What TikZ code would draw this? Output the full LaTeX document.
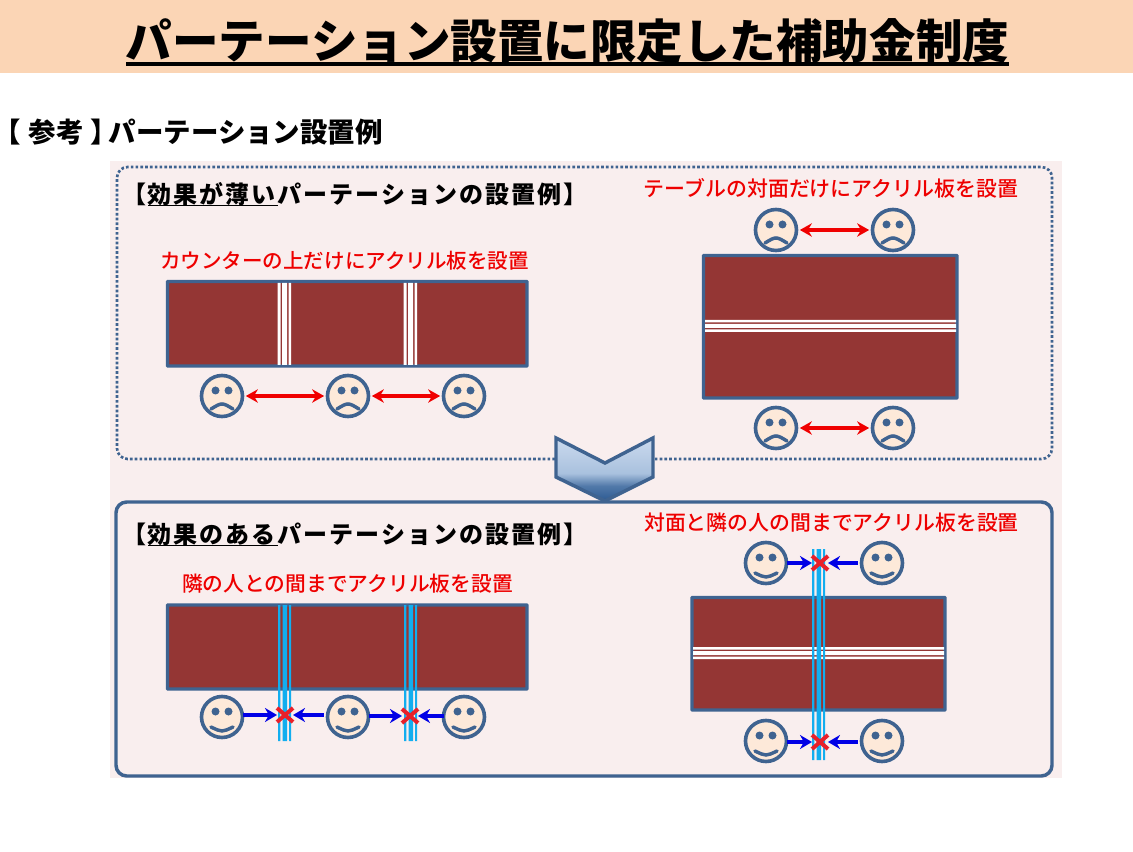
\documentclass[tikz,border=0pt]{standalone}
\usepackage{fontspec}
\usetikzlibrary{arrows.meta,calc,shadings}
\setmainfont{Noto Sans CJK JP}
\newfontfamily\cjk{Noto Sans CJK JP}
\newfontfamily\cjkpalt[RawFeature=+palt]{Noto Sans CJK JP}
\newfontfamily\cjkmed{Noto Sans CJK JP Medium}
\newfontfamily\cjkspaced[LetterSpace=8.3]{Noto Sans CJK JP}
\definecolor{band}{HTML}{FBD5B5}
\definecolor{panel}{HTML}{F9EEEE}
\definecolor{navy}{HTML}{3F6390}
\definecolor{brick}{HTML}{943634}
\definecolor{skin}{HTML}{FDE9D9}
\definecolor{pane}{HTML}{12AEEF}
\definecolor{arrowred}{HTML}{F00000}
\definecolor{arrowblue}{HTML}{0000E6}
\definecolor{crossred}{HTML}{E8202A}
\definecolor{labelred}{HTML}{EE0000}
\definecolor{chevtop}{HTML}{CBDAEE}
\definecolor{chevmid}{HTML}{A9C1DE}
\definecolor{chevlow}{HTML}{2C5A92}
\pgfdeclareverticalshading{chev}{100bp}{
  color(0bp)=(chevlow); color(25bp)=(chevlow); color(37bp)=(chevlow!70!chevmid); color(47bp)=(chevmid); color(75bp)=(chevtop); color(100bp)=(chevtop)}
\tikzset{
  x=0.75pt,y=-0.75pt,
  every node/.style={inner sep=0pt,outer sep=0pt},
  facest/.style={circle,draw=navy,fill=skin,line width=2.7pt,minimum size=41*0.75pt},
  featurest/.style={navy,line width=2.6pt,line cap=round},
  tablest/.style={rectangle,draw=navy,fill=brick,line width=2.6pt,rounded corners=0.5pt},
  redarrow/.style={draw=arrowred,line width=2.7pt,{Stealth[length=9pt,width=10pt]}-{Stealth[length=9pt,width=10pt]},shorten >=2.5pt,shorten <=2.5pt},
  bluearrow/.style={draw=arrowblue,line width=2.9pt,-{Stealth[length=9pt,width=10.5pt]}},
  crossst/.style={minimum size=12pt},
  crossline/.style={crossred,line width=3pt},
  redlabel/.style={font=\cjkmed\fontsize{#1}{16pt}\selectfont,text=labelred,anchor=center},
  headlabel/.style={font=\cjkspaced\bfseries\fontsize{18pt}{20pt}\selectfont,text=black,anchor=west},
}
\newcommand{\facebase}[3]{\node[facest] (#1) at (#2,#3) {};
  \fill[navy] (#2-6.5,#3-5.5) circle (4) (#2+6.5,#3-5.5) circle (4);}
\newcommand{\sadface}[3]{\facebase{#1}{#2}{#3}
  \draw[featurest] (#2-11,#3+13) .. controls (#2,#3+6.3) .. (#2+11,#3+13);}
\newcommand{\happyface}[3]{\facebase{#1}{#2}{#3}
  \draw[featurest] (#2-11,#3+10) .. controls (#2,#3+15.3) .. (#2+11,#3+10);}
\newcommand{\crossmark}[3]{\node[crossst] (#1) at (#2,#3) {};
  \draw[crossline] (#2-8,#3-7) -- (#2+8,#3+7) (#2-8,#3+7) -- (#2+8,#3-7);}
\newcommand{\whitev}[3]{\fill[white] (#1,#2) rectangle (#1+3,#3) (#1+4.5,#2) rectangle (#1+9.5,#3) (#1+11,#2) rectangle (#1+13.5,#3);}
\newcommand{\whiteh}[3]{\fill[white] (#2,#1) rectangle (#3,#1+2.5) (#2,#1+4) rectangle (#3,#1+8) (#2,#1+9.5) rectangle (#3,#1+12);}
\newcommand{\bluev}[3]{\fill[pane] (#1,#2) rectangle (#1+2.4,#3) (#1+4.5,#2) rectangle (#1+9.2,#3) (#1+11,#2) rectangle (#1+13,#3);}
\begin{document}
\begin{tikzpicture}
\useasboundingbox (0,0) rectangle (1133,852);
\fill[white] (0,0) rectangle (1133,852);
\fill[band] (0,0) rectangle (1133,73);
\node[font=\cjk\bfseries\fontsize{34.9pt}{36pt}\selectfont,anchor=center] (title) at (567.5,41) {パーテーション設置に限定した補助金制度};
\coordinate (tl) at (126,64); \coordinate (tr) at (1009,64);
\draw[line width=2.4pt,black] (tl) -- (tr);
\node[font=\cjk\bfseries\fontsize{20.6pt}{22pt}\selectfont,anchor=west] (sub) at (7,132) {{\cjkpalt\bfseries 【}\hspace{6pt}参考\hspace{6pt}{\cjkpalt\bfseries 】}\hspace{2.5pt}パーテーション設置例};
\fill[panel] (110,161) rectangle (1062,778);
\draw[navy,line width=2pt,dash pattern=on 2pt off 1.6pt,rounded corners=8pt] (555,459) -- (117,459) -- (117,167) -- (1052,167) -- (1052,459) -- (655,459);
\draw[navy,line width=2.6pt,rounded corners=8pt] (116,502) rectangle (1052,776);
\node[headlabel] (h1) at (122,194) {【効果が薄いパーテーションの設置例】};
\draw[line width=1pt,black] (148,205.5) -- (278,205.5);
\node[headlabel] (h2) at (122,534) {【効果のあるパーテーションの設置例】};
\draw[line width=1pt,black] (148,545.5) -- (278,545.5);
\node[redlabel=15.4pt] (l1) at (344.5,260.5) {カウンターの上だけにアクリル板を設置};
\node[redlabel=15.7pt] (l2) at (831,188.5) {テーブルの対面だけにアクリル板を設置};
\node[redlabel=15.55pt] (l3) at (347.5,583.5) {隣の人との間までアクリル板を設置};
\node[redlabel=15.65pt] (l4) at (831.5,522.5) {対面と隣の人の間までアクリル板を設置};
% upper left
\draw[tablest] (167.5,281.5) rectangle (527,366);
\whitev{277.5}{283}{365}
\whitev{403.5}{283}{365}
\sadface{a1}{222}{396}\sadface{a2}{348}{396}\sadface{a3}{464}{396}
\draw[redarrow] (a1) -- (a2);
\draw[redarrow] (a2) -- (a3);
% upper right
\draw[tablest] (703.5,255.5) rectangle (957,398);
\whiteh{320}{705}{956}
\sadface{b1}{776}{230}\sadface{b2}{893}{230}\sadface{b3}{776}{428}\sadface{b4}{893}{428}
\draw[redarrow] (b1) -- (b2);
\draw[redarrow] (b3) -- (b4);
% chevron
\draw[navy,line width=2.6pt,line join=miter,shading=chev,shading angle=0] (556,438) -- (605,463) -- (653,438) -- (653,477) -- (605,501) -- (556,477) -- cycle;
% lower left
\draw[tablest] (167.5,605) rectangle (527,689);
\bluev{278}{605}{741}
\bluev{404}{605}{741}
\happyface{c1}{222}{717}\happyface{c2}{348}{717}\happyface{c3}{464}{717}
\crossmark{x1}{285}{715}\crossmark{x2}{410}{716}
\draw[bluearrow] (c1.east |- x1) -- (x1.west);
\draw[bluearrow,shorten <=3pt] (c2.west |- x1) -- (x1.east);
\draw[bluearrow] (c2.east |- x2) -- (x2.west);
\draw[bluearrow] (c3.west |- x2) -- (x2.east);
% lower right
\draw[tablest] (692,597.5) rectangle (945,710);
\whiteh{647}{693}{944}
\bluev{812}{549}{760}
\happyface{d1}{766}{563}\happyface{d2}{882}{563}\happyface{d3}{766}{741}\happyface{d4}{882}{741}
\crossmark{x3}{820}{563}\crossmark{x4}{820}{742}
\draw[bluearrow] (d1.east |- x3) -- (x3.west);
\draw[bluearrow,shorten <=3pt] (d2.west |- x3) -- (x3.east);
\draw[bluearrow] (d3.east |- x4) -- (x4.west);
\draw[bluearrow,shorten <=3pt] (d4.west |- x4) -- (x4.east);
\end{tikzpicture}
\end{document}
